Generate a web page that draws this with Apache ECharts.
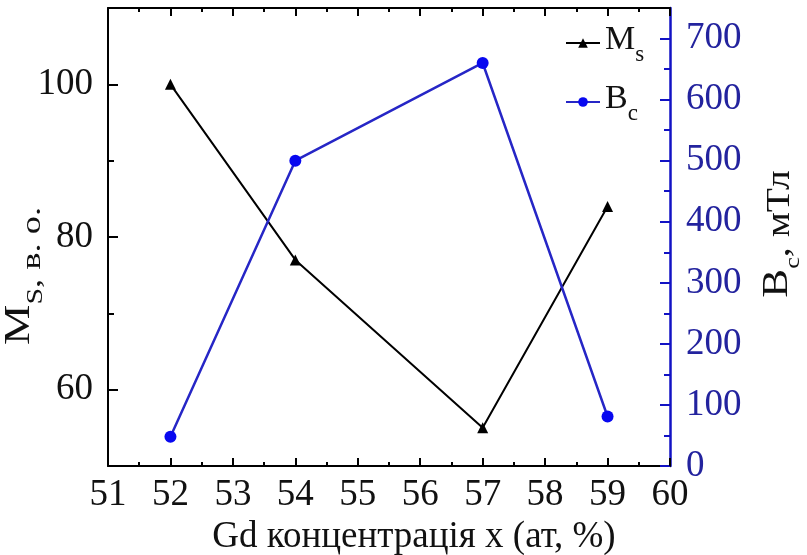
<!DOCTYPE html>
<html>
<head>
<meta charset="utf-8">
<script src="https://cdn.jsdelivr.net/npm/echarts@6/dist/echarts.min.js"></script>
<style>
  html, body { margin: 0; padding: 0; background: #fff; }
  #chart { width: 807px; height: 555px; }
</style>
</head>
<body>
<div id="chart"></div>
<script>
// Gd content of the alloys (at. %)
const gdConcentration = [52, 54, 57, 59];
// Saturation magnetisation, relative units
const magnetization = [100, 77, 55, 84];
// Coercivity, mT
const coercivity = [48, 500, 660, 81];

// Tick values
const msTicks = [60, 80, 100];
const msMinorTicks = [70, 90];
const bcTicks = [0, 100, 200, 300, 400, 500, 600, 700];
const bcMinorTicks = [50, 150, 250, 350, 450, 550, 650];

const FONT = "'Liberation Serif', 'Times New Roman', serif";
const BLACK = '#111';
const BLUE_AXIS = '#1212c4';
const BLUE_TEXT = '#23239e';
const BLUE_LINE = '#2626c6';
const BLUE_MARK = '#0808f0';

// rich styles for names with subscripts
const legendRich = {
  m: { fontFamily: FONT, fontSize: 34, color: BLACK, lineHeight: 40, verticalAlign: 'top' },
  s: { fontFamily: FONT, fontSize: 23, color: BLACK, lineHeight: 23, verticalAlign: 'top', padding: [20, 0, 0, 0] }
};
const titleToken = (size, lineHeight, padTop) => ({
  fontFamily: FONT, fontWeight: 'normal', fontStyle: 'normal', fontSize: size, color: BLACK,
  lineHeight: lineHeight, verticalAlign: 'top', padding: [padTop, 0, 0, 0]
});
const leftTitleRich = {
  m: titleToken(35, 42, 0),
  s: titleToken(23, 23, 22),
  u: titleToken(28, 28, 17)
};
const rightTitleRich = {
  m: titleToken(36, 42, 0),
  s: titleToken(22, 22, 22),
  t: titleToken(33, 38, 4)
};

const pairs = (ys) => gdConcentration.map((x, i) => [x, ys[i]]);

const chart = echarts.init(document.getElementById('chart'), null, { renderer: 'canvas' });

const xCommon = {
  type: 'value',
  min: 51,
  max: 60,
  interval: 1,
  splitLine: { show: false },
  axisLine: { show: true, onZero: false, lineStyle: { color: '#000', width: 2 } },
  axisTick: { show: true, inside: true, length: 8, lineStyle: { color: '#000', width: 2 } },
  minorTick: { show: true, splitNumber: 2, length: 4, lineStyle: { color: '#000', width: 2 } }
};

chart.setOption({
  animation: false,
  backgroundColor: '#fff',
  grid: { left: 108, right: 137, top: 8, bottom: 89, outerBoundsMode: 'none', containLabel: false },
  legend: {
    orient: 'vertical',
    left: 560,
    top: 18,
    itemWidth: 34,
    itemHeight: 12,
    itemGap: 16,
    data: ['Ms', 'Bc'],
    formatter: (name) => name === 'Ms' ? '{m|M}{s|s}' : '{m|B}{s|c}',
    textStyle: { rich: legendRich }
  },
  // vertical axis titles, drawn rotated and slightly elongated along the reading direction
  graphic: [
    {
      type: 'text',
      x: 23,
      y: 276,
      rotation: Math.PI / 2,
      scaleX: 1.3,
      style: {
        text: '{m|M}{s|S}{u|, в. о.}', rich: leftTitleRich,
        fontFamily: FONT, fontWeight: 'normal', fontSize: 34, fill: BLACK,
        align: 'center', verticalAlign: 'middle'
      }
    },
    {
      type: 'text',
      x: 781,
      y: 234,
      rotation: Math.PI / 2,
      scaleX: 1.2,
      style: {
        text: '{m|B}{s|c}{t|, мТл}', rich: rightTitleRich,
        fontFamily: FONT, fontWeight: 'normal', fontSize: 34, fill: BLACK,
        align: 'center', verticalAlign: 'middle'
      }
    }
  ],
  xAxis: [
    Object.assign({}, xCommon, {
      position: 'bottom',
      axisLabel: { fontFamily: FONT, fontSize: 37, color: BLACK, margin: 11 },
      name: 'Gd концентрація x (ат, %)',
      nameLocation: 'middle',
      nameGap: 51,
      nameTextStyle: { fontFamily: FONT, fontSize: 37, color: BLACK, padding: [0, 0, 0, 50] }
    }),
    Object.assign({}, xCommon, {
      position: 'top',
      axisLabel: { show: false }
    })
  ],
  yAxis: [
    {
      type: 'value',
      position: 'left',
      min: 50,
      max: 110,
      splitLine: { show: false },
      axisLine: { show: true, onZero: false, lineStyle: { color: '#000', width: 2 } },
      axisTick: { show: true, inside: true, length: 10, customValues: msTicks, lineStyle: { color: '#000', width: 2 } },
      axisLabel: { customValues: msTicks, fontFamily: FONT, fontSize: 37, color: BLACK, margin: 15 }
    },
    {
      type: 'value',
      position: 'left',
      min: 50,
      max: 110,
      splitLine: { show: false },
      axisLine: { show: false },
      axisTick: { show: true, inside: true, length: 6, customValues: msMinorTicks, lineStyle: { color: '#000', width: 2 } },
      axisLabel: { show: false }
    },
    {
      type: 'value',
      position: 'right',
      min: 0,
      max: 750,
      splitLine: { show: false },
      axisLine: { show: true, onZero: false, lineStyle: { color: BLUE_AXIS, width: 2.5 } },
      axisTick: { show: true, inside: true, length: 10, customValues: bcTicks, lineStyle: { color: BLUE_AXIS, width: 2 } },
      axisLabel: { customValues: bcTicks, fontFamily: FONT, fontSize: 37, color: BLUE_TEXT, margin: 16 }
    },
    {
      type: 'value',
      position: 'right',
      min: 0,
      max: 750,
      splitLine: { show: false },
      axisLine: { show: false },
      axisTick: { show: true, inside: true, length: 6, customValues: bcMinorTicks, lineStyle: { color: BLUE_AXIS, width: 2 } },
      axisLabel: { show: false }
    }
  ],
  series: [
    {
      name: 'Ms',
      type: 'line',
      xAxisIndex: 0,
      yAxisIndex: 0,
      data: pairs(magnetization),
      symbol: 'triangle',
      symbolSize: 11,
      lineStyle: { color: '#000', width: 2 },
      itemStyle: { color: '#000' }
    },
    {
      name: 'Bc',
      type: 'line',
      xAxisIndex: 0,
      yAxisIndex: 2,
      data: pairs(coercivity),
      symbol: 'circle',
      symbolSize: 12,
      lineStyle: { color: BLUE_LINE, width: 2.5 },
      itemStyle: { color: BLUE_MARK }
    }
  ]
});
</script>
</body>
</html>
